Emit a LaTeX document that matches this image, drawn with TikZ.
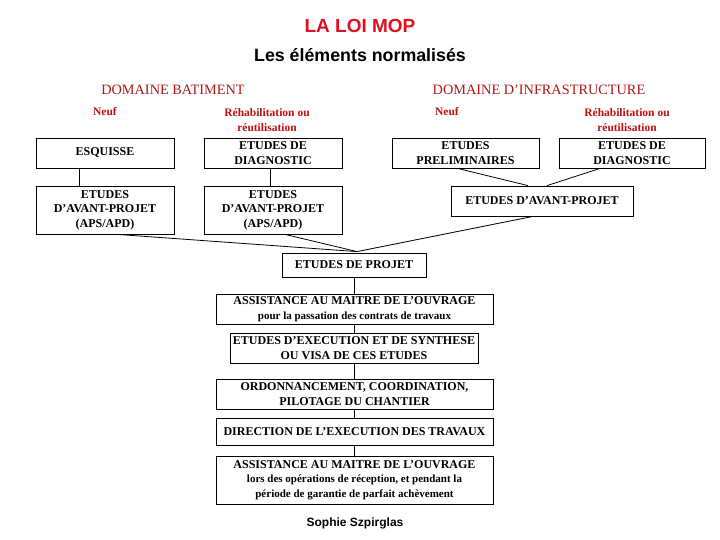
\documentclass[tikz,border=0pt]{standalone}
\usepackage{fontspec}
\setmainfont{Liberation Serif}
\newfontfamily\arialfont{Liberation Sans}
\definecolor{titlered}{RGB}{224,16,32}
\definecolor{domred}{RGB}{176,24,24}
\definecolor{subred}{RGB}{192,16,16}
\begin{document}
\begin{tikzpicture}[x=1pt,y=-1pt,
  box/.style={draw, line width=0.8pt, inner sep=0pt, align=center,
    font=\bfseries\fontsize{12}{14.5}\selectfont},
  conn/.style={line width=0.8pt},
  domtext/.style={text=domred, inner sep=0pt, font=\fontsize{14.3}{16}\selectfont},
  subtext/.style={text=subred, inner sep=0pt, align=center, font=\bfseries\fontsize{11.5}{15}\selectfont}]
\path[use as bounding box, fill=white] (0,0) rectangle (720,540);

\node[inner sep=0pt, text=titlered, font=\arialfont\bfseries\fontsize{19}{21}\selectfont] (title) at (360,26) {LA LOI MOP};
\node[inner sep=0pt, font=\arialfont\bfseries\fontsize{17.8}{20}\selectfont] (subtitle) at (360,55) {Les éléments normalisés};

\node[domtext] (dombat) at (173,90) {DOMAINE BATIMENT};
\node[domtext] (dominf) at (539,90) {DOMAINE D’INFRASTRUCTURE};

\node[subtext] (neuf1) at (105,112) {Neuf};
\node[subtext] (rehab1) at (267,120) {Réhabilitation ou\\réutilisation};
\node[subtext] (neuf2) at (447,112) {Neuf};
\node[subtext] (rehab2) at (627,120) {Réhabilitation ou\\réutilisation};

\node[box, minimum width=138pt, minimum height=30pt] (esq) at (105,153) {ESQUISSE};
\node[box, minimum width=138pt, minimum height=30pt] (diag1) at (273,153) {ETUDES DE\\DIAGNOSTIC};
\node[box, minimum width=138pt, minimum height=48pt] (aps1) at (105,210) {ETUDES\\D’AVANT-PROJET\\(APS/APD)};
\node[box, minimum width=138pt, minimum height=48pt] (aps2) at (273,210) {ETUDES\\D’AVANT-PROJET\\(APS/APD)};

\node[box, minimum width=147pt, minimum height=30pt] (prel) at (465.5,153) {ETUDES\\PRELIMINAIRES};
\node[box, minimum width=146pt, minimum height=30pt] (diag2) at (632,153) {ETUDES DE\\DIAGNOSTIC};
\node[box, minimum width=182pt, minimum height=30pt] (avp) at (542,201) {ETUDES D’AVANT-PROJET};

\node[box, minimum width=144pt, minimum height=24pt] (proj) at (354,265) {ETUDES DE PROJET};
\node[box, minimum width=277pt, minimum height=30pt] (amo1) at (354.5,309) {ASSISTANCE AU MAITRE DE L’OUVRAGE\\{\fontsize{11}{13}\selectfont pour la passation des contrats de travaux}};
\node[box, minimum width=248pt, minimum height=30pt] (exe) at (354,348) {ETUDES D’EXECUTION ET DE SYNTHESE\\OU VISA DE CES ETUDES};
\node[box, minimum width=277pt, minimum height=30pt] (ord) at (354.5,394) {ORDONNANCEMENT, COORDINATION,\\PILOTAGE DU CHANTIER};
\node[box, minimum width=277pt, minimum height=27pt] (dir) at (354.5,431.5) {DIRECTION DE L’EXECUTION DES TRAVAUX};
\node[box, minimum width=277pt, minimum height=48pt] (amo2) at (354.5,480) {ASSISTANCE AU MAITRE DE L’OUVRAGE\\{\fontsize{11}{14.5}\selectfont lors des opérations de réception, et pendant la}\\{\fontsize{11}{14.5}\selectfont période de garantie de parfait achèvement}};

\node[inner sep=0pt, font=\arialfont\bfseries\fontsize{12}{14}\selectfont] (author) at (355,523) {Sophie Szpirglas};

% connectors
\draw[conn] ([xshift=-26pt]esq.south) -- ([xshift=-26pt]aps1.north);
\draw[conn] ([xshift=-3pt]diag1.south) -- ([xshift=-3pt]aps2.north);
\draw[conn] ([xshift=-8pt]prel.south) -- ([xshift=-14pt]avp.north);
\draw[conn] ([xshift=-32pt]diag2.south) -- ([xshift=5pt]avp.north);
\coordinate (meet) at ([xshift=3pt,yshift=1pt]proj.north);
\draw[conn] ([xshift=12pt]aps1.south) -- (meet);
\draw[conn] ([xshift=12pt]aps2.south) -- (meet);
\draw[conn] ([xshift=-9pt]avp.south) -- (meet);
\draw[conn] (proj.south) -- (proj.south |- amo1.north);
\draw[conn] (proj.south |- amo1.south) -- (proj.south |- exe.north);
\draw[conn] (proj.south |- exe.south) -- (proj.south |- ord.north);
\draw[conn] (proj.south |- ord.south) -- (proj.south |- dir.north);
\draw[conn] (proj.south |- dir.south) -- (proj.south |- amo2.north);
\end{tikzpicture}
\end{document}
